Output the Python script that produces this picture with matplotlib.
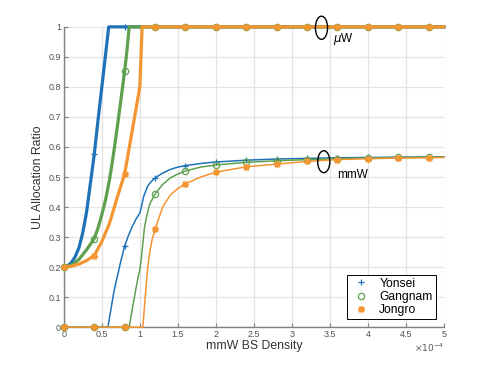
import numpy as np
import matplotlib.pyplot as plt
from matplotlib.lines import Line2D
from matplotlib.patches import Ellipse

plt.rcParams['font.family'] = ['Liberation Sans', 'DejaVu Sans']

# Dichte in Einheiten von 1e-4
# --- uW (dicke Linien) ---
x_yon_uw = [0, 0.05, 0.1, 0.15, 0.2, 0.25, 0.3, 0.35, 0.4, 0.45, 0.5, 0.55, 0.59,
            0.8, 1.2, 1.6, 2.0, 2.4, 2.8, 3.2, 3.6, 4.0, 4.4, 4.8, 5.0]
y_yon_uw = [0.2, 0.204, 0.215, 0.235, 0.265, 0.315, 0.385, 0.48, 0.575, 0.69, 0.8, 0.91, 1.0,
            1, 1, 1, 1, 1, 1, 1, 1, 1, 1, 1, 1]

x_gan_uw = [0, 0.1, 0.2, 0.3, 0.4, 0.45, 0.5, 0.55, 0.6, 0.65, 0.7, 0.75, 0.8, 0.83, 0.86,
            1.2, 1.6, 2.0, 2.4, 2.8, 3.2, 3.6, 4.0, 4.4, 4.8, 5.0]
y_gan_uw = [0.2, 0.206, 0.226, 0.258, 0.295, 0.33, 0.375, 0.425, 0.49, 0.57, 0.66, 0.755, 0.853, 0.92, 1.0,
            1, 1, 1, 1, 1, 1, 1, 1, 1, 1, 1]

x_jon_uw = [0, 0.1, 0.2, 0.3, 0.4, 0.5, 0.6, 0.7, 0.8, 0.9, 1.0, 1.03,
            1.2, 1.6, 2.0, 2.4, 2.8, 3.2, 3.6, 4.0, 4.4, 4.8, 5.0]
y_jon_uw = [0.2, 0.203, 0.21, 0.222, 0.238, 0.285, 0.345, 0.43, 0.51, 0.655, 0.8, 1.0,
            1, 1, 1, 1, 1, 1, 1, 1, 1, 1, 1]

# --- mmW (duenne Linien) ---
x_yon_mm = [0, 0.4, 0.58, 0.62, 0.66, 0.7, 0.75, 0.8, 0.85, 0.9, 0.95, 1.0, 1.02, 1.05, 1.1, 1.15,
            1.2, 1.3, 1.4, 1.5, 1.6, 1.8, 2.0, 2.4, 2.8, 3.2, 3.6, 4.0, 4.4, 4.8, 5.0]
y_yon_mm = [0, 0, 0, 0.06, 0.12, 0.165, 0.22, 0.27, 0.305, 0.335, 0.36, 0.38, 0.40, 0.435, 0.468, 0.485,
            0.497, 0.513, 0.525, 0.533, 0.538, 0.545, 0.55, 0.556, 0.56, 0.562, 0.564, 0.565, 0.566, 0.567, 0.567]

x_gan_mm = [0, 0.4, 0.8, 0.86, 0.9, 0.95, 0.98, 1.0, 1.02, 1.04, 1.06, 1.09, 1.13,
            1.2, 1.3, 1.4, 1.5, 1.6, 1.8, 2.0, 2.4, 2.8, 3.2, 3.6, 4.0, 4.4, 4.8, 5.0]
y_gan_mm = [0, 0, 0, 0, 0.06, 0.13, 0.17, 0.19, 0.23, 0.28, 0.33, 0.37, 0.41,
            0.443, 0.475, 0.497, 0.51, 0.52, 0.533, 0.54, 0.549, 0.554, 0.558, 0.561, 0.563, 0.565, 0.566, 0.566]

x_jon_mm = [0, 0.4, 0.8, 1.04, 1.07, 1.1, 1.13, 1.16, 1.2, 1.3, 1.4, 1.5, 1.6, 1.8,
            2.0, 2.4, 2.8, 3.2, 3.6, 4.0, 4.4, 4.8, 5.0]
y_jon_mm = [0, 0, 0, 0, 0.10, 0.19, 0.25, 0.29, 0.326, 0.40, 0.44, 0.462, 0.477, 0.50,
            0.516, 0.534, 0.543, 0.552, 0.558, 0.561, 0.563, 0.564, 0.565]

names = ['Yonsei', 'Gangnam', 'Jongro']
farben = ['#1f72b8', '#5fa04e', '#f39530']
marker = ['+', 'o', (8, 2, 0)]
groesse = [4.5, 4.5, 5.2]
mark_x = np.arange(0, 4.81, 0.4)  # Marker alle 0.4


def marken(x):
    x = np.asarray(x)
    return [i for i, v in enumerate(x) if np.any(np.isclose(v, mark_x))]


fig = plt.figure(figsize=(4.91, 3.68), dpi=100)
ax = fig.add_axes([0.13, 0.111, 0.774, 0.816])

uw = [(x_yon_uw, y_yon_uw), (x_gan_uw, y_gan_uw), (x_jon_uw, y_jon_uw)]
mm = [(x_yon_mm, y_yon_mm), (x_gan_mm, y_gan_mm), (x_jon_mm, y_jon_mm)]

for i in range(3):
    ax.plot(mm[i][0], mm[i][1], color=farben[i], lw=1.1, marker=marker[i], ms=groesse[i],
            mfc='none', mew=0.9, markevery=marken(mm[i][0]), zorder=3 + i, clip_on=False)
for i in range(3):
    ax.plot(uw[i][0], uw[i][1], color=farben[i], lw=2.3, marker=marker[i], ms=groesse[i],
            mfc='none', mew=0.9, markevery=marken(uw[i][0]), zorder=6 + i, clip_on=False)

# Ellipsen + Beschriftung
ax.add_patch(Ellipse((3.39, 0.997), 0.16, 0.077, fill=False, ec='black', lw=1.0,
                     zorder=10, clip_on=False))
ax.add_patch(Ellipse((3.42, 0.551), 0.16, 0.073, fill=False, ec='black', lw=1.0, zorder=10))
ax.text(3.54, 0.958, r'$\mu$W', fontsize=8.5, va='center', ha='left')
ax.text(3.6, 0.507, 'mmW', fontsize=8.5, va='center', ha='left')

ax.set_xlim(0, 5)
ax.set_ylim(0, 1)
ax.set_xticks(np.arange(0, 5.01, 0.5))
ax.set_xticklabels(['0', '0.5', '1', '1.5', '2', '2.5', '3', '3.5', '4', '4.5', '5'])
ax.set_yticks(np.arange(0, 1.01, 0.1))
ax.set_yticklabels(['0', '0.1', '0.2', '0.3', '0.4', '0.5', '0.6', '0.7', '0.8', '0.9', '1'])
ax.text(1.0, -0.068, r'$\times10^{-4}$', transform=ax.transAxes, ha='right', va='center',
        fontsize=6.5, color='#555555')

ax.grid(True, color='#e3e3e3', lw=0.9)
ax.set_axisbelow(True)
for s in ['top', 'right']:
    ax.spines[s].set_visible(False)
for s in ['left', 'bottom']:
    ax.spines[s].set_color('#808080')
    ax.spines[s].set_linewidth(1.0)
ax.tick_params(direction='in', length=3, color='#808080', labelcolor='#505050',
               labelsize=6.5, pad=2)

ax.set_xlabel('mmW BS Density', fontsize=8.8, color='#333333', labelpad=1)
ax.set_ylabel('UL Allocation Ratio', fontsize=8.8, color='#333333', labelpad=3)

handles = [Line2D([], [], ls='none', color=farben[i], marker=marker[i], ms=groesse[i],
                  mfc='none', mew=0.9) for i in range(3)]
leg = ax.legend(handles, names, loc='lower right', bbox_to_anchor=(0.978, 0.027),
                fontsize=8.7, frameon=True, fancybox=False, framealpha=1,
                edgecolor='black', borderpad=0.25, labelspacing=0.1,
                handletextpad=0.6, handlelength=1.8, borderaxespad=0)
leg.get_frame().set_linewidth(0.7)
leg.set_zorder(20)

fig.savefig('out.png', dpi=100)
